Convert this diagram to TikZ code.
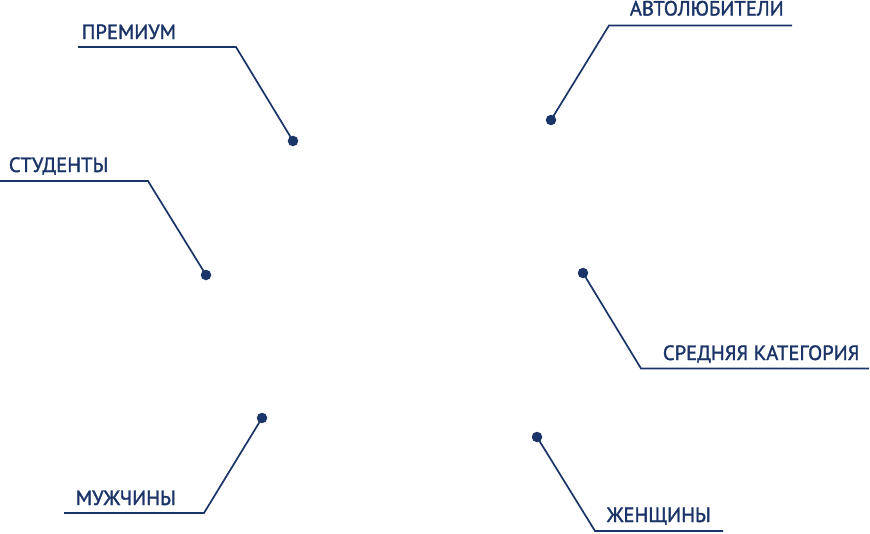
\documentclass[tikz,border=0pt]{standalone}
\usepackage{fontspec}
\setmainfont{PT Sans}
\newfontfamily\lblfont{PT Sans}[FakeBold=1.6]
\definecolor{navy}{HTML}{1B3468}
\begin{document}
\begin{tikzpicture}[x=1pt,y=-1pt,line width=1.7pt,navy,
  dot/.style={circle,fill=navy,inner sep=0pt,minimum size=10.5pt},
  lbl/.style={font=\lblfont\fontsize{20.6}{21}\selectfont,text=navy,inner sep=0pt,anchor=base west}]
  \useasboundingbox (0,0) rectangle (870,533);
  % left side
  \node[dot](premium)at(293,141){};
  \coordinate(premium-knee)at(236,47);\coordinate(premium-end)at(78,47);
  \draw(premium.center)--(premium-knee)--(premium-end);
  \node[lbl](premium-text)at(81,39){ПРЕМИУМ};
  \node[dot](students)at(206,275){};
  \coordinate(students-knee)at(148,181);\coordinate(students-end)at(0,181);
  \draw(students.center)--(students-knee)--(students-end);
  \node[lbl](students-text)at(8,172){СТУДЕНТЫ};
  \node[dot](men)at(262,418){};
  \coordinate(men-knee)at(204,513);\coordinate(men-end)at(64,513);
  \draw(men.center)--(men-knee)--(men-end);
  \node[lbl](men-text)at(75,505){МУЖЧИНЫ};
  % right side
  \node[dot](drivers)at(551,120){};
  \coordinate(drivers-knee)at(609,25.5);\coordinate(drivers-end)at(792,25.5);
  \draw(drivers.center)--(drivers-knee)--(drivers-end);
  \node[lbl](drivers-text)at(629,15.5){АВТОЛЮБИТЕЛИ};
  \node[dot](middle)at(583,273){};
  \coordinate(middle-knee)at(641,368.5);\coordinate(middle-end)at(869,368.5);
  \draw(middle.center)--(middle-knee)--(middle-end);
  \node[lbl](middle-text)at(662,360){СРЕДНЯЯ КАТЕГОРИЯ};
  \node[dot](women)at(537,437){};
  \coordinate(women-knee)at(595,531);\coordinate(women-end)at(723,531);
  \draw(women.center)--(women-knee)--(women-end);
  \node[lbl](women-text)at(606,522){ЖЕНЩИНЫ};
\end{tikzpicture}
\end{document}
